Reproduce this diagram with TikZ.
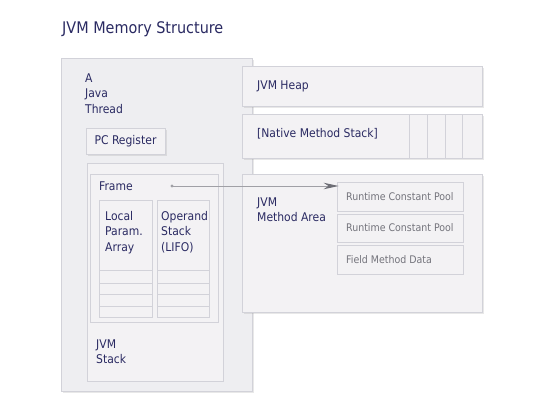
\documentclass[tikz,border=0pt]{standalone}
\usepackage{fontspec}
\setmainfont{DejaVu Sans Condensed}
\usetikzlibrary{fit,arrows.meta,shadows}
\definecolor{txt}{HTML}{2A2A62}
\definecolor{pooltxt}{HTML}{74747C}
\definecolor{thrfill}{HTML}{EEEEF1}
\definecolor{boxfill}{HTML}{F3F2F4}
\definecolor{brd}{HTML}{D2D2D9}
\definecolor{arrowln}{HTML}{A0A0A6}
\definecolor{arrowtip}{HTML}{6E6E76}
\tikzset{
  box/.style={draw=brd, fill=boxfill, line width=0.8bp, inner sep=0pt,
    drop shadow={shadow xshift=1.5bp, shadow yshift=-1.5bp, opacity=0.18, fill=gray}},
  flatbox/.style={draw=brd, fill=boxfill, line width=0.8bp, inner sep=0pt},
  lbl/.style={text=txt, font=\fontsize{12bp}{15.5bp}\selectfont, inner sep=0pt, align=left},
  pool/.style={text=pooltxt, font=\fontsize{10.5bp}{12bp}\selectfont, inner sep=0pt, anchor=west},
  rowln/.style={draw=brd, line width=0.8bp},
}
\begin{document}
\begin{tikzpicture}[x=1bp,y=-1bp]
\useasboundingbox[fill=white] (0,0) rectangle (553,413);
% title
\node[text=txt, font=\fontsize{16bp}{19bp}\selectfont, inner sep=0pt, anchor=west] (title) at (62,29) {JVM Memory Structure};
% thread
\node[box, fill=thrfill, fit={(61,58) (252,391)}] (thread) {};
\node[lbl, anchor=north west] (thrtxt) at (85,73.5) {A\\Java\\Thread};
\node[box, fit={(86,128) (165,154)}] (pc) {};
\node[lbl] (pctxt) at (pc.center) {PC Register};
\node[flatbox, fit={(87,163) (223,381)}] (stack) {};
\node[lbl, anchor=north west] (stacktxt) at (96,339.5) {JVM\\Stack};
\node[flatbox, fit={(90,174) (218,322)}] (frame) {};
\node[lbl, anchor=west] (frametxt) at (99,186) {Frame};
% columns
\node[flatbox, fit={(99,200) (152,317)}] (local) {};
\node[flatbox, fit={(157,200) (209,317)}] (operand) {};
\foreach \yy in {270,283,294,306}{
  \draw[rowln] (99,\yy) -- (152,\yy);
  \draw[rowln] (157,\yy) -- (209,\yy);
}
\node[lbl, anchor=north west] (localtxt) at (105,211) {Local\\Param.\\Array};
\node[lbl, anchor=north west] (opertxt) at (161,211) {Operand\\Stack\\(LIFO)};
% heap
\node[box, fit={(242,66) (482,106)}] (heap) {};
\node[lbl, anchor=west] (heaptxt) at (257,86) {JVM Heap};
% native
\node[box, fit={(242,114) (482,158)}] (native) {};
\foreach \xx in {409,427,445,462}{
  \draw[rowln] (\xx,114) -- (\xx,158);
}
\node[lbl, anchor=north west] (nativetxt) at (257,128) {[Native Method Stack]};
% method area
\node[box, fit={(242,174) (482,312)}] (method) {};
\node[lbl, anchor=north west] (methodtxt) at (257,197.5) {JVM\\Method Area};
\node[flatbox, fit={(337,182) (463,211)}] (pool1) {};
\node[flatbox, fit={(337,214) (463,242)}] (pool2) {};
\node[flatbox, fit={(337,245) (463,274)}] (fmd) {};
\node[pool] (pool1txt) at (346,196.5) {Runtime Constant Pool};
\node[pool] (pool2txt) at (346,228) {Runtime Constant Pool};
\node[pool] (fmdtxt) at (346,259.5) {Field Method Data};
% arrow
\coordinate (fs) at (172,186);
\fill[arrowln] (fs) circle (1.6bp);
\draw[arrowln, line width=1bp, -{Stealth[length=15bp,width=6.5bp,color=arrowtip]}] (fs) -- ([xshift=2bp]fs -| pool1.west);
\end{tikzpicture}
\end{document}
